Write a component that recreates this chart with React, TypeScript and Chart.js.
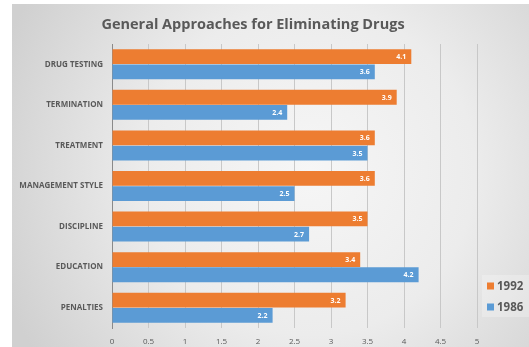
import { useEffect, useRef } from "react";
import { Chart, registerables } from "chart.js";

Chart.register(...registerables);

const categories = [
  "DRUG TESTING",
  "TERMINATION",
  "TREATMENT",
  "MANAGEMENT STYLE",
  "DISCIPLINE",
  "EDUCATION",
  "PENALTIES",
];
const values1992 = [4.1, 3.9, 3.6, 3.6, 3.5, 3.4, 3.2];
const values1986 = [3.6, 2.4, 3.5, 2.5, 2.7, 4.2, 2.2];
const seriesNames = ["1992", "1986"];
const seriesColors = ["#ED7D31", "#5B9BD5"];
const chartTitle = "General Approaches for Eliminating Drugs";

const FONT = "'Open Sans', sans-serif";
const TEXT = "#595959";

// Gradient panel behind the whole chart, plus the centred title
const panelPlugin = {
  id: "panel",
  beforeDraw(chart: any) {
    const { ctx, width, height } = chart;
    ctx.save();
    ctx.fillStyle = "#ffffff";
    ctx.fillRect(0, 0, width, height);
    const g = ctx.createRadialGradient(310, 170, 0, 310, 170, 330);
    g.addColorStop(0, "#f6f6f6");
    g.addColorStop(0.5, "#ececec");
    g.addColorStop(1, "#d0d0d0");
    ctx.fillStyle = g;
    ctx.fillRect(12, 4, width - 12, height - 4);
    ctx.fillStyle = TEXT;
    ctx.font = `bold 14.5px ${FONT}`;
    ctx.textAlign = "center";
    ctx.textBaseline = "middle";
    ctx.fillText(chartTitle, 253, 25);
    ctx.restore();
  },
};

// Value labels inside the end of each bar
const valueLabelPlugin = {
  id: "valueLabels",
  afterDatasetsDraw(chart: any) {
    const { ctx } = chart;
    ctx.save();
    ctx.fillStyle = "#ffffff";
    ctx.font = `bold 7px ${FONT}`;
    ctx.textAlign = "right";
    ctx.textBaseline = "middle";
    chart.data.datasets.forEach((ds: any, i: number) => {
      const meta = chart.getDatasetMeta(i);
      meta.data.forEach((bar: any, j: number) => {
        ctx.fillText(String(ds.data[j]), bar.x - 5, bar.y + 0.5);
      });
    });
    ctx.restore();
  },
};

// Legend block at the lower right of the plot
const legendPlugin = {
  id: "sideLegend",
  afterDraw(chart: any) {
    const { ctx, chartArea } = chart;
    const x0 = chartArea.right + 5;
    const y0 = chartArea.bottom - 53;
    ctx.save();
    ctx.fillStyle = "rgba(255,255,255,0.25)";
    ctx.fillRect(x0, y0, chart.width - x0, 42);
    ctx.font = `bold 11.5px ${FONT}`;
    ctx.textBaseline = "middle";
    ctx.textAlign = "left";
    chart.data.datasets.forEach((ds: any, i: number) => {
      const cy = y0 + 11 + i * 21;
      ctx.fillStyle = ds.backgroundColor;
      ctx.fillRect(x0 + 5, cy - 3.5, 7, 7);
      ctx.fillStyle = TEXT;
      ctx.fillText(ds.label, x0 + 15, cy + 0.5);
    });
    ctx.restore();
  },
};

export default function App() {
  const ref = useRef<HTMLCanvasElement>(null);

  useEffect(() => {
    if (!ref.current) return;
    const chart = new Chart(ref.current, {
      type: "bar",
      data: {
        labels: categories,
        datasets: [
          {
            label: seriesNames[0],
            data: values1992,
            backgroundColor: seriesColors[0],
            categoryPercentage: 0.75,
            barPercentage: 0.97,
          },
          {
            label: seriesNames[1],
            data: values1986,
            backgroundColor: seriesColors[1],
            categoryPercentage: 0.75,
            barPercentage: 0.97,
          },
        ],
      },
      options: {
        indexAxis: "y",
        animation: false,
        responsive: false,
        layout: { padding: { left: 12, top: 44, right: 52, bottom: 0 } },
        plugins: {
          legend: { display: false },
          tooltip: { enabled: false },
          title: { display: false },
        },
        scales: {
          x: {
            min: 0,
            max: 5,
            ticks: {
              stepSize: 0.5,
              color: TEXT,
              font: { family: FONT, size: 8 },
              padding: 9,
              callback: (v: any) => String(Number(v)),
            },
            grid: { color: "#c8c8c8", drawTicks: false },
            border: { display: false },
            afterFit(scale: any) {
              scale.height = 19;
            },
          },
          y: {
            ticks: {
              color: TEXT,
              font: { family: FONT, size: 8, weight: "bold" },
              padding: 9,
            },
            grid: { display: false, drawTicks: false },
            border: { display: true, color: "#8a8a8a", width: 1 },
            afterFit(scale: any) {
              scale.width = 100;
            },
          },
        },
      },
      plugins: [panelPlugin, valueLabelPlugin, legendPlugin],
    });
    return () => chart.destroy();
  }, []);

  return (
    <div style={{ position: "absolute", left: 0, top: 0 }}>
      <canvas ref={ref} width={529} height={347} />
    </div>
  );
}
